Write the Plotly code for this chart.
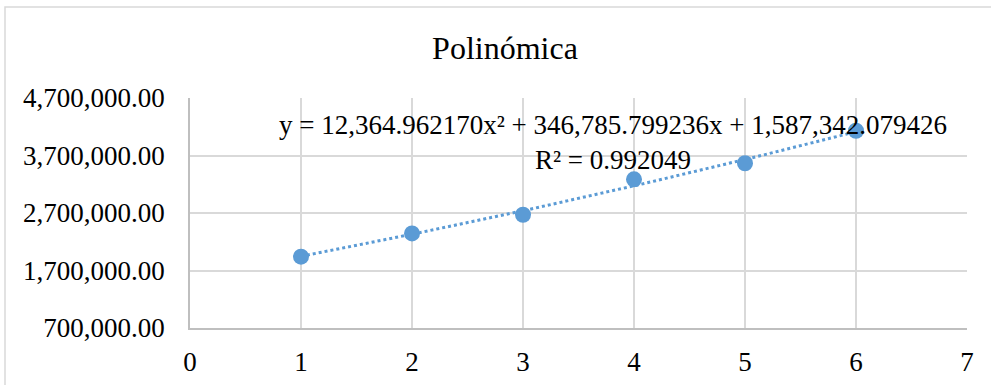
import numpy as np
import plotly.graph_objects as go

# Observed values
periods = [1, 2, 3, 4, 5, 6]
values = [1940000, 2345000, 2670000, 3285000, 3565000, 4130000]

# Second-order polynomial trendline coefficients (a*x^2 + b*x + c)
coef_a = 12364.962170
coef_b = 346785.799236
coef_c = 1587342.079426
r_squared = 0.992049

y_ticks = [700000, 1700000, 2700000, 3700000, 4700000]
x_ticks = [0, 1, 2, 3, 4, 5, 6, 7]

blue = "#5B9BD5"
grid = "#D9D9D9"
font_family = "Liberation Serif, Times New Roman, serif"

trend_x = np.linspace(min(periods), max(periods), 120)
trend_y = coef_a * trend_x ** 2 + coef_b * trend_x + coef_c

fig = go.Figure()
fig.add_trace(go.Scatter(
    x=trend_x, y=trend_y, mode="lines",
    line=dict(color=blue, width=3, dash="dot"),
    hoverinfo="skip", showlegend=False,
))
fig.add_trace(go.Scatter(
    x=periods, y=values, mode="markers",
    marker=dict(color=blue, size=16),
    showlegend=False,
))

equation = (f"y = {coef_a:,.6f}x² + {coef_b:,.6f}x + {coef_c:,.6f}"
            f"<br>R² = {r_squared:.6f}")

fig.update_layout(
    width=991, height=385,
    margin=dict(l=190, r=24, t=98, b=57),
    paper_bgcolor="white", plot_bgcolor="white",
    font=dict(family=font_family, size=27, color="#000000"),
    title=dict(text="Polinómica", x=505 / 991, xanchor="center",
               y=1 - 48 / 385, yanchor="middle",
               font=dict(family=font_family, size=32, color="#000000")),
    xaxis=dict(range=[0, 7], tickvals=x_ticks, ticktext=[str(v) for v in x_ticks],
               showgrid=True, gridcolor=grid, gridwidth=1.5,
               showline=True, linecolor="#BFBFBF", linewidth=1.5,
               zeroline=False, ticks="outside", ticklen=9,
               tickcolor="rgba(0,0,0,0)", automargin=False),
    yaxis=dict(range=[700000, 4700000], tickvals=y_ticks,
               ticktext=[f"{v:,.2f}" for v in y_ticks],
               showgrid=True, gridcolor=grid, gridwidth=1.5,
               showline=True, linecolor="#BFBFBF", linewidth=1.5,
               zeroline=False, ticks="outside", ticklen=18,
               tickcolor="rgba(0,0,0,0)", automargin=False),
    annotations=[dict(
        text=equation, xref="paper", yref="paper",
        x=(613 - 190) / 777, y=(328 - 142.5) / 230,
        xanchor="center", yanchor="middle", align="center", showarrow=False,
        font=dict(family=font_family, size=27, color="#000000"),
    )],
    shapes=[dict(
        type="rect", xref="paper", yref="paper",
        x0=(5 - 190) / 777, x1=1.2, y0=-0.6, y1=(328 - 7) / 230,
        line=dict(color=grid, width=1.5), layer="below",
    )],
)

fig.write_html("out.html")
